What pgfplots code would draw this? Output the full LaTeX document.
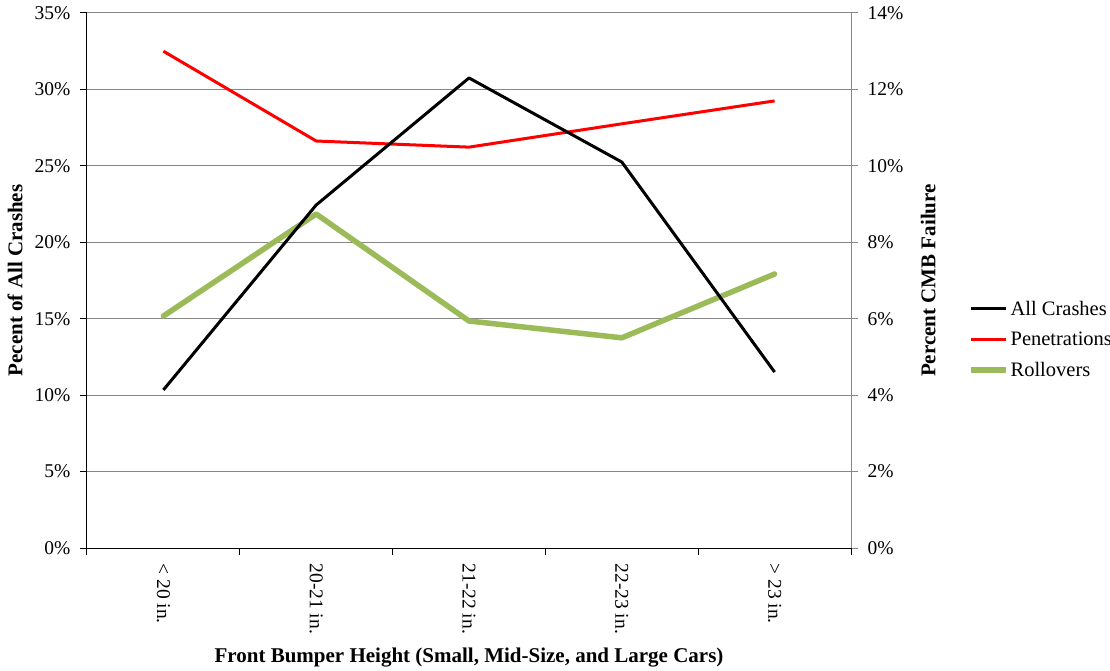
\documentclass[border=0pt]{standalone}
\usepackage{fontspec}
\setmainfont{Liberation Serif}
\usepackage{pgfplots}
\pgfplotsset{compat=1.18}
\definecolor{gridgray}{RGB}{134,134,134}
\definecolor{rollgreen}{RGB}{155,187,89}
\begin{document}
\begin{tikzpicture}
\path[use as bounding box] (-87pt,-122pt) rectangle (1023pt,548pt);
% right axis (CMB failure) with grid, drawn first
\begin{axis}[
  at={(0,0)}, anchor=south west,
  scale only axis, width=764pt, height=535pt,
  xmin=-0.5, xmax=4.5, ymin=0, ymax=14,
  axis x line=none,
  axis y line*=right,
  y axis line style={draw=gridgray, line width=1pt},
  ytick={0,2,...,14},
  yticklabel={\pgfmathparse{int(\tick)}\pgfmathresult\%},
  yticklabel style={font=\fontsize{19.5}{22}\selectfont, xshift=6pt},
  ytick style={draw=gridgray, line width=1pt},
  tick align=outside, major tick length=7pt,
  ymajorgrids, grid style={draw=gridgray, line width=1pt},
  every axis y label/.style={at={(axis description cs:1.101,0.5)}, rotate=90, anchor=center, font=\fontsize{21}{24}\selectfont\bfseries},
  ylabel={Percent CMB Failure},
  clip=false,
]
\addplot[draw=red, line width=3pt, line join=round] coordinates {(0,13.0) (1,10.65) (2,10.49) (3,11.1) (4,11.7)};
\addplot[draw=rollgreen, line width=5.5pt, line join=round, line cap=round] coordinates {(0,6.07) (1,8.74) (2,5.94) (3,5.50) (4,7.17)};
\end{axis}
% left axis (all crashes)
\begin{axis}[
  at={(0,0)}, anchor=south west,
  scale only axis, width=764pt, height=535pt,
  xmin=-0.5, xmax=4.5, ymin=0, ymax=35,
  axis x line*=bottom, axis y line*=left,
  axis line style={draw=black, line width=1pt},
  ytick={0,5,...,35},
  yticklabel={\pgfmathparse{int(\tick)}\pgfmathresult\%},
  yticklabel style={font=\fontsize{19.5}{22}\selectfont, xshift=-6pt},
  xtick={-0.5,0.5,...,4.5}, xticklabels={},
  extra x ticks={0,1,2,3,4},
  extra x tick labels={< 20 in., 20-21 in., 21-22 in., 22-23 in., > 23 in.},
  extra x tick style={major tick length=0pt, xticklabel style={rotate=-90, anchor=west, font=\fontsize{19.5}{22}\selectfont, yshift=0pt, xshift=12pt}},
  tick style={draw=black, line width=1pt},
  tick align=outside, major tick length=7pt,
  every axis y label/.style={at={(axis description cs:-0.094,0.5)}, rotate=90, anchor=center, font=\fontsize{21}{24}\selectfont\bfseries},
  ylabel={Pecent of All Crashes},
  every axis x label/.style={at={(axis description cs:0.5,-0.204)}, anchor=center, font=\fontsize{21}{24}\selectfont\bfseries},
  xlabel={Front Bumper Height (Small, Mid-Size, and Large Cars)},
  legend style={at={(axis description cs:1.153,0.39)}, anchor=west, draw=none, fill=none, inner sep=0pt,
    font=\fontsize{20.5}{23}\selectfont, row sep=11pt},
  legend cell align=left,
  legend image code/.code={\draw[#1, line cap=butt] (0pt,0pt) -- (35pt,0pt);},
  clip=false,
]
\addplot[draw=black, line width=3pt, line join=round] coordinates {(0,10.34) (1,22.44) (2,30.75) (3,25.25) (4,11.51)};
\addlegendentry{All Crashes}
\addlegendimage{draw=red, line width=3pt}
\addlegendentry{Penetrations}
\addlegendimage{draw=rollgreen, line width=5.5pt}
\addlegendentry{Rollovers}
\end{axis}
\end{tikzpicture}
\end{document}
